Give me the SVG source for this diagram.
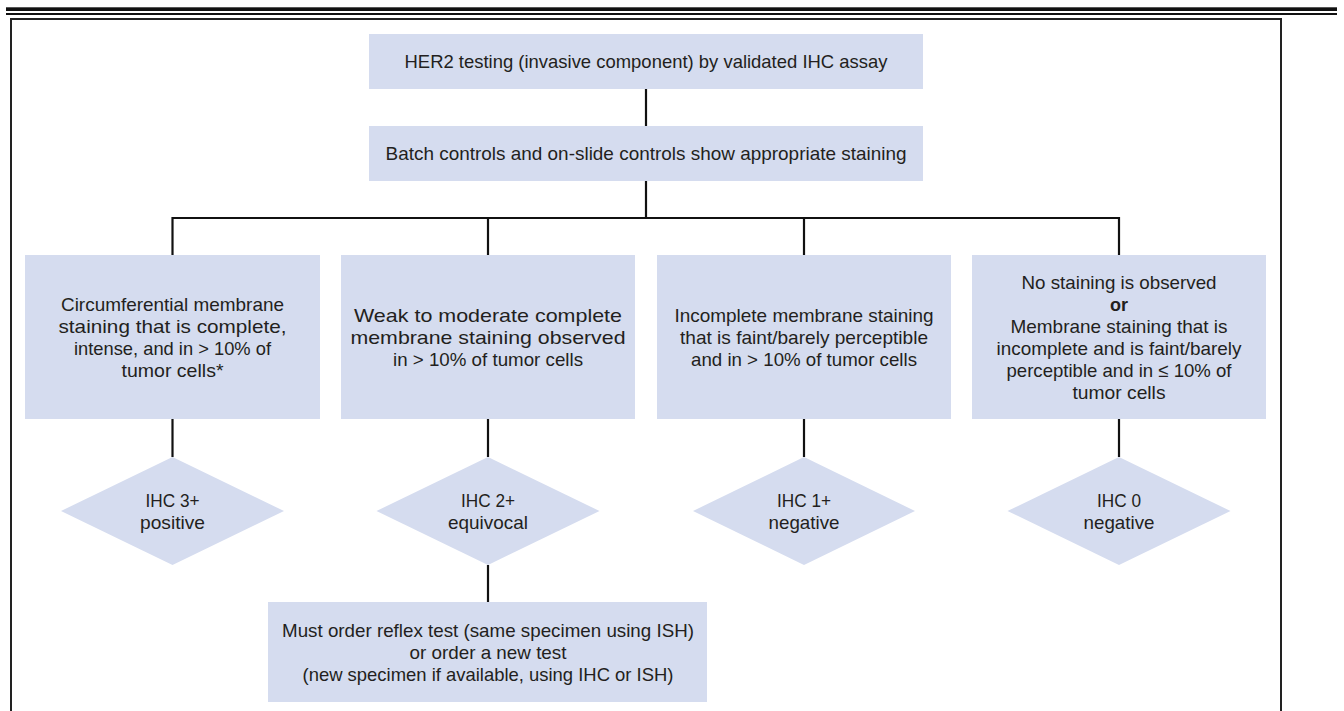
<svg xmlns="http://www.w3.org/2000/svg" width="1344" height="711" viewBox="0 0 1344 711">
<defs>
<style>
.box{fill:#d5dcef;}
.t{font-family:"Liberation Sans",Arial,sans-serif;font-size:19px;fill:#231f20;text-anchor:middle;}
.b{font-weight:bold;}
.c{stroke:#111;stroke-width:2.2;fill:none;}
</style>
</defs>
<rect x="6" y="7.3" width="1331" height="3.7" fill="#111"/>
<rect x="6" y="13" width="1331" height="2" fill="#111"/>
<path d="M11,711 V19 H1281 V711" fill="none" stroke="#222" stroke-width="2"/>
<g id="connectors">
<line class="c" x1="646" y1="89" x2="646" y2="126"/>
<line class="c" x1="646" y1="181" x2="646" y2="218"/>
<line class="c" x1="172.5" y1="218" x2="1119" y2="218"/>
<line class="c" x1="172.5" y1="217" x2="172.5" y2="255"/>
<line class="c" x1="488" y1="218" x2="488" y2="255"/>
<line class="c" x1="804" y1="218" x2="804" y2="255"/>
<line class="c" x1="1119" y1="217" x2="1119" y2="255"/>
<line class="c" x1="172.5" y1="419" x2="172.5" y2="457"/>
<line class="c" x1="488" y1="419" x2="488" y2="457"/>
<line class="c" x1="804" y1="419" x2="804" y2="457"/>
<line class="c" x1="1119" y1="419" x2="1119" y2="457"/>
<line class="c" x1="488" y1="565" x2="488" y2="602"/>
</g>
<g id="n-her2">
<rect class="box" x="369" y="34" width="554" height="55"/>
<text class="t" x="646" y="68" textLength="483" lengthAdjust="spacingAndGlyphs">HER2 testing (invasive component) by validated IHC assay</text>
</g>
<g id="n-controls">
<rect class="box" x="369" y="126" width="554" height="55"/>
<text class="t" x="646" y="160" textLength="521" lengthAdjust="spacingAndGlyphs">Batch controls and on-slide controls show appropriate staining</text>
</g>
<g id="n-circ">
<rect class="box" x="25" y="255" width="295" height="164"/>
<text class="t" x="172.5" y="310.5" textLength="223" lengthAdjust="spacingAndGlyphs">Circumferential membrane</text>
<text class="t" x="172.5" y="332.5" textLength="228" lengthAdjust="spacingAndGlyphs">staining that is complete,</text>
<text class="t" x="172.5" y="354.5" textLength="197" lengthAdjust="spacingAndGlyphs">intense, and in &gt; 10% of</text>
<text class="t" x="172.5" y="376.5" textLength="102" lengthAdjust="spacingAndGlyphs">tumor cells*</text>
</g>
<g id="n-weak">
<rect class="box" x="341" y="255" width="294" height="164"/>
<text class="t" x="488" y="321.5" textLength="268" lengthAdjust="spacingAndGlyphs">Weak to moderate complete</text>
<text class="t" x="488" y="343.5" textLength="275" lengthAdjust="spacingAndGlyphs">membrane staining observed</text>
<text class="t" x="488" y="365.5" textLength="190" lengthAdjust="spacingAndGlyphs">in &gt; 10% of tumor cells</text>
</g>
<g id="n-incomplete">
<rect class="box" x="657" y="255" width="294" height="164"/>
<text class="t" x="804" y="321.5" textLength="259" lengthAdjust="spacingAndGlyphs">Incomplete membrane staining</text>
<text class="t" x="804" y="343.5" textLength="248" lengthAdjust="spacingAndGlyphs">that is faint/barely perceptible</text>
<text class="t" x="804" y="365.5" textLength="226" lengthAdjust="spacingAndGlyphs">and in &gt; 10% of tumor cells</text>
</g>
<g id="n-nostain">
<rect class="box" x="972" y="255" width="294" height="164"/>
<text class="t" x="1119" y="288.5" textLength="195" lengthAdjust="spacingAndGlyphs">No staining is observed</text>
<text class="t b" x="1119" y="310.5" textLength="18" lengthAdjust="spacingAndGlyphs">or</text>
<text class="t" x="1119" y="332.5" textLength="217" lengthAdjust="spacingAndGlyphs">Membrane staining that is</text>
<text class="t" x="1119" y="354.5" textLength="245" lengthAdjust="spacingAndGlyphs">incomplete and is faint/barely</text>
<text class="t" x="1119" y="376.5" textLength="225" lengthAdjust="spacingAndGlyphs">perceptible and in ≤ 10% of</text>
<text class="t" x="1119" y="398.5" textLength="93" lengthAdjust="spacingAndGlyphs">tumor cells</text>
</g>
<g id="n-ihc3">
<polygon class="box" points="172.5,457 284,511 172.5,565 61,511"/>
<text class="t" x="172.5" y="506.5" textLength="54" lengthAdjust="spacingAndGlyphs">IHC 3+</text>
<text class="t" x="172.5" y="528.5" textLength="65" lengthAdjust="spacingAndGlyphs">positive</text>
</g>
<g id="n-ihc2">
<polygon class="box" points="488,457 599.5,511 488,565 376.5,511"/>
<text class="t" x="488" y="506.5" textLength="54" lengthAdjust="spacingAndGlyphs">IHC 2+</text>
<text class="t" x="488" y="528.5" textLength="80" lengthAdjust="spacingAndGlyphs">equivocal</text>
</g>
<g id="n-ihc1">
<polygon class="box" points="804,457 915,511 804,565 693,511"/>
<text class="t" x="804" y="506.5" textLength="54" lengthAdjust="spacingAndGlyphs">IHC 1+</text>
<text class="t" x="804" y="528.5" textLength="71" lengthAdjust="spacingAndGlyphs">negative</text>
</g>
<g id="n-ihc0">
<polygon class="box" points="1119,457 1230.5,511 1119,565 1007.5,511"/>
<text class="t" x="1119" y="506.5" textLength="44" lengthAdjust="spacingAndGlyphs">IHC 0</text>
<text class="t" x="1119" y="528.5" textLength="71" lengthAdjust="spacingAndGlyphs">negative</text>
</g>
<g id="n-reflex">
<rect class="box" x="268" y="602" width="439" height="100"/>
<text class="t" x="488" y="636.5" textLength="412" lengthAdjust="spacingAndGlyphs">Must order reflex test (same specimen using ISH)</text>
<text class="t" x="488" y="658.5" textLength="157" lengthAdjust="spacingAndGlyphs">or order a new test</text>
<text class="t" x="488" y="680.5" textLength="371" lengthAdjust="spacingAndGlyphs">(new specimen if available, using IHC or ISH)</text>
</g>
</svg>
